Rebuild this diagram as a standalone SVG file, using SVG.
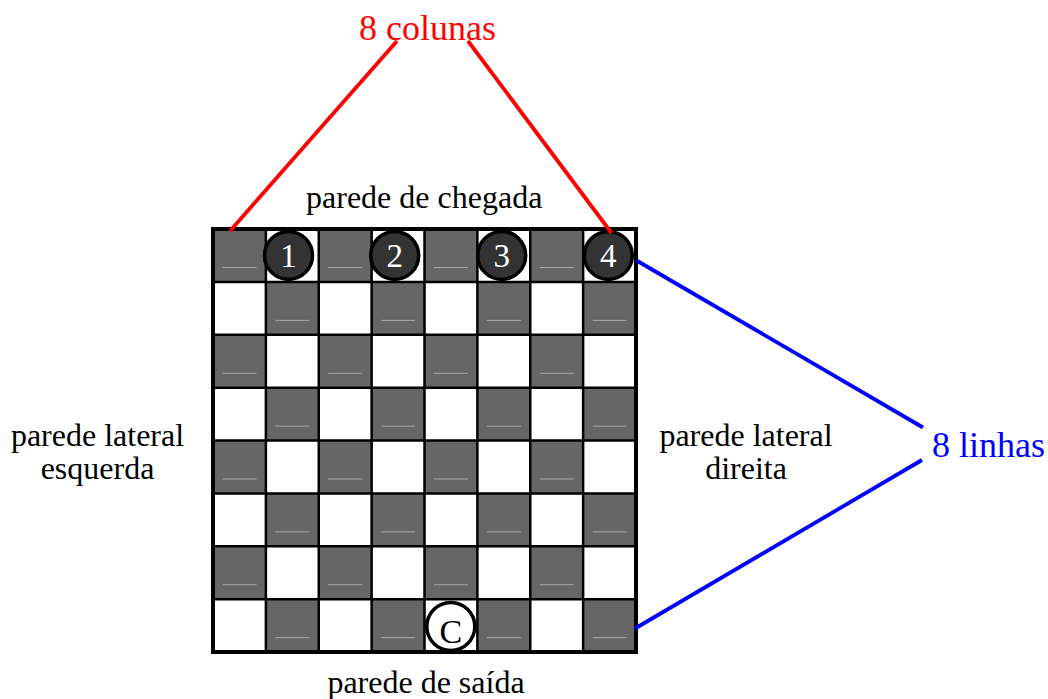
<svg xmlns="http://www.w3.org/2000/svg" xmlns:xlink="http://www.w3.org/1999/xlink" width="1048" height="699" viewBox="0 0 1048 699">
<style>
.lbl{font-family:"Liberation Serif","Times New Roman",serif;font-size:32px;fill:#000;text-anchor:middle}
.big{font-family:"Liberation Serif","Times New Roman",serif;font-size:36px;text-anchor:middle}
.pc{fill:#333;stroke:#000;stroke-width:3.5}
.pt{font-family:"Liberation Serif","Times New Roman",serif;font-size:33px;fill:#fff;text-anchor:middle}
.grid{fill:none;stroke:#000;stroke-width:2.5}
</style>
<defs>
<g id="dk">
<rect width="52.875" height="52.875" fill="#666"/>
<line x1="9.5" y1="38.5" x2="43.5" y2="38.5" stroke="#aaa" stroke-width="1"/>
</g>
</defs>
<rect width="1048" height="699" fill="#fff"/>
<g id="board">
<rect x="213" y="229" width="423" height="423" fill="#fff"/>
<use xlink:href="#dk" x="213" y="229"/><use xlink:href="#dk" x="318.75" y="229"/><use xlink:href="#dk" x="424.5" y="229"/><use xlink:href="#dk" x="530.25" y="229"/>
<use xlink:href="#dk" x="265.875" y="281.875"/><use xlink:href="#dk" x="371.625" y="281.875"/><use xlink:href="#dk" x="477.375" y="281.875"/><use xlink:href="#dk" x="583.125" y="281.875"/>
<use xlink:href="#dk" x="213" y="334.75"/><use xlink:href="#dk" x="318.75" y="334.75"/><use xlink:href="#dk" x="424.5" y="334.75"/><use xlink:href="#dk" x="530.25" y="334.75"/>
<use xlink:href="#dk" x="265.875" y="387.625"/><use xlink:href="#dk" x="371.625" y="387.625"/><use xlink:href="#dk" x="477.375" y="387.625"/><use xlink:href="#dk" x="583.125" y="387.625"/>
<use xlink:href="#dk" x="213" y="440.5"/><use xlink:href="#dk" x="318.75" y="440.5"/><use xlink:href="#dk" x="424.5" y="440.5"/><use xlink:href="#dk" x="530.25" y="440.5"/>
<use xlink:href="#dk" x="265.875" y="493.375"/><use xlink:href="#dk" x="371.625" y="493.375"/><use xlink:href="#dk" x="477.375" y="493.375"/><use xlink:href="#dk" x="583.125" y="493.375"/>
<use xlink:href="#dk" x="213" y="546.25"/><use xlink:href="#dk" x="318.75" y="546.25"/><use xlink:href="#dk" x="424.5" y="546.25"/><use xlink:href="#dk" x="530.25" y="546.25"/>
<use xlink:href="#dk" x="265.875" y="599.125"/><use xlink:href="#dk" x="371.625" y="599.125"/><use xlink:href="#dk" x="477.375" y="599.125"/><use xlink:href="#dk" x="583.125" y="599.125"/>
<path class="grid" d="M265.875 229V652M318.75 229V652M371.625 229V652M424.5 229V652M477.375 229V652M530.25 229V652M583.125 229V652M213 281.875H636M213 334.75H636M213 387.625H636M213 440.5H636M213 493.375H636M213 546.25H636M213 599.125H636"/>
<rect x="213" y="229" width="423" height="423" fill="none" stroke="#000" stroke-width="4"/>
</g>
<g id="piece1"><circle class="pc" cx="288.5" cy="255.4" r="24"/><text class="pt" x="288.5" y="267">1</text></g>
<g id="piece2"><circle class="pc" cx="394.7" cy="255.4" r="24"/><text class="pt" x="394.7" y="267">2</text></g>
<g id="piece3"><circle class="pc" cx="501.7" cy="255.4" r="24"/><text class="pt" x="501.7" y="267">3</text></g>
<g id="piece4"><circle class="pc" cx="608.3" cy="255.4" r="24"/><text class="pt" x="608.3" y="267">4</text></g>
<g id="pieceC"><circle cx="450.8" cy="626.5" r="24" fill="#fff" stroke="#000" stroke-width="3.5"/><text x="450.8" y="642.5" style="font-family:'Liberation Serif','Times New Roman',serif;font-size:34px;fill:#000;text-anchor:middle">C</text></g>
<g id="labels">
<text class="lbl" x="424.2" y="208">parede de chegada</text>
<text class="lbl" x="426" y="693">parede de saída</text>
<text class="lbl" x="97.5" y="446">parede lateral</text>
<text class="lbl" x="97.5" y="479">esquerda</text>
<text class="lbl" x="746" y="446">parede lateral</text>
<text class="lbl" x="746" y="479">direita</text>
</g>
<g id="colunas"><text class="big" x="427.5" y="40" fill="#f00">8 colunas</text></g>
<g id="linhas"><text class="big" x="988.5" y="457" fill="#00f">8 linhas</text></g>
<g id="connectors" fill="none" stroke-width="3.8">
<line x1="397" y1="41" x2="230" y2="231" stroke="#f00"/>
<line x1="468" y1="41" x2="611.5" y2="233" stroke="#f00"/>
<line x1="636.5" y1="260.5" x2="923" y2="427.5" stroke="#00f"/>
<line x1="922" y1="460" x2="635" y2="628.5" stroke="#00f"/>
</g>
</svg>
